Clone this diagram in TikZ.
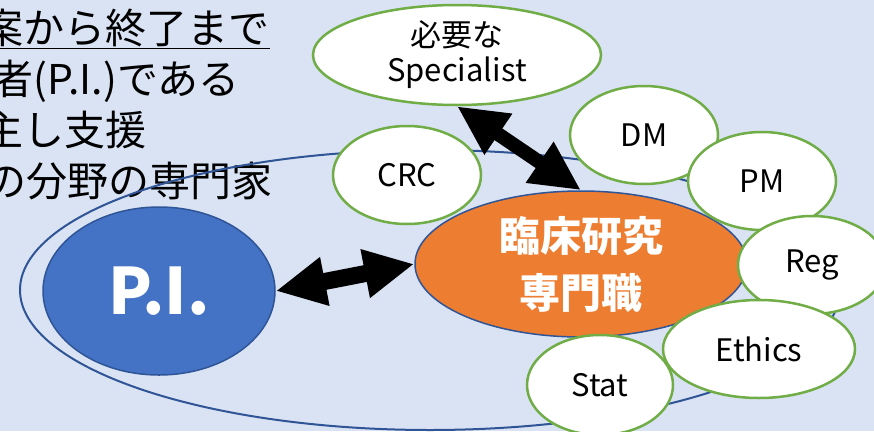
\documentclass[tikz,border=0pt]{standalone}
\usepackage{fontspec}
\setmainfont{Noto Sans CJK JP}
\usepackage{tikz}
\usetikzlibrary{arrows.meta,shapes.geometric}

\definecolor{bgblue}{HTML}{DAE3F3}
\definecolor{lineblue}{HTML}{2F5597}
\definecolor{piblue}{HTML}{4472C4}
\definecolor{crcorange}{HTML}{ED7D31}
\definecolor{leafgreen}{HTML}{70AD47}

\begin{document}
\begin{tikzpicture}[x=1pt,y=-1pt,every node/.style={inner sep=0pt},
        team/.style={ellipse,draw=lineblue,line width=2pt,minimum width=820pt,minimum height=280pt},
        leader/.style={ellipse,draw=lineblue,line width=1.5pt,fill=piblue,text=white,
          minimum width=232pt,minimum height=168pt,font=\fontsize{64}{64}\selectfont\bfseries},
        core/.style={ellipse,draw=lineblue,line width=1.5pt,fill=crcorange,text=white,align=center,
          minimum width=332pt,minimum height=146pt,font=\fontsize{41}{57}\selectfont\bfseries},
        member/.style={ellipse,draw=leafgreen,line width=2.5pt,fill=white,align=center,
          minimum width=148pt,minimum height=98pt,font=\fontsize{31}{35}\selectfont},
        twoway/.style={line width=17pt,{Triangle[length=50pt,width=46pt]}-{Triangle[length=50pt,width=46pt]}},
        memo/.style={anchor=base east,font=\fontsize{41}{51}\selectfont}]

  \useasboundingbox (0,0) rectangle (874,431);
  \clip (0,0) rectangle (874,431);
  \fill[bgblue] (0,0) rectangle (874,431);

  % note on the left, cut by the frame
  \node[memo] (line_1) at (270,43)  {\underline{案から終了まで}};
  \node[memo] (line_2) at (240,94)  {者(P.I.)である};
  \node[memo] (line_3) at (147,145) {主し支援};
  \node[memo] (line_4) at (273,196) {の分野の専門家};

  \node[team]   (team) at (430,290) {};
  \node[leader] (pi)   at (159,291) {P.I.};
  \node[core]   (cfp)  at (581,264) {臨床研究\\専門職};

  \node[member,minimum width=288pt,minimum height=100pt] (spec) at (457,55) {必要な\\Specialist};
  \node[member] (crc)  at (407,175) {CRC};
  \node[member] (dm)   at (644,135) {DM};
  \node[member] (pm)   at (762,181) {PM};
  \node[member] (reg)  at (812,265) {Reg};
  \node[member,minimum width=192pt] (eth) at (759,349) {Ethics};
  \node[member,minimum width=146pt,minimum height=100pt] (stat) at (600,385) {Stat};

  \path (pi.east)    edge[twoway] (cfp.west)
        (spec.south) edge[twoway,line width=14pt] (cfp.north);

\end{tikzpicture}
\end{document}
